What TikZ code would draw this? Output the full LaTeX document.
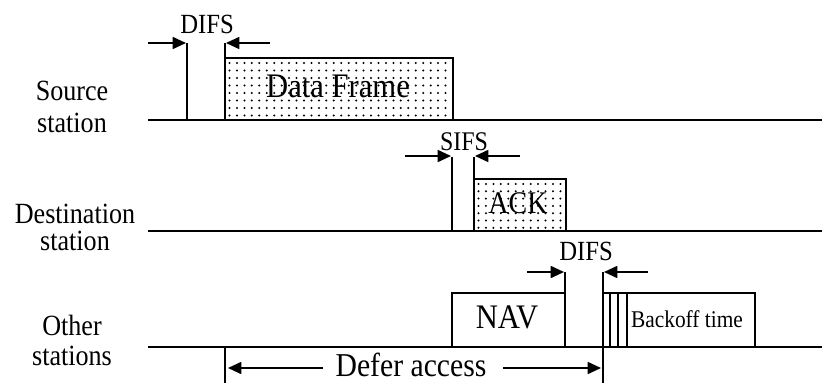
\documentclass[tikz,border=0pt]{standalone}
\usepackage{fontspec}
\setmainfont[FakeStretch=0.89]{Liberation Serif}
\usetikzlibrary{arrows.meta}

\begin{document}
\begin{tikzpicture}[x=0.75pt, y=-0.75pt, line width=1.3pt,
  axis/.style={line width=1.4pt},
  frame/.style={draw, line width=1.3pt},
  mark line/.style={line width=1.3pt},
  gap/.style={-{Triangle[length=10pt,width=9pt]}, line width=1.3pt},
  lbl/.style={font=\fontsize{22}{26}\selectfont, anchor=base, inner sep=0pt},
  ifs/.style={font=\fontsize{20.8}{24}\selectfont, anchor=base, inner sep=0pt},
  big/.style={font=\fontsize{25.8}{30}\selectfont, anchor=base, inner sep=0pt},
  dot/.style={fill=black},
]
\useasboundingbox (0,0) rectangle (822,383);

% station labels
\node[lbl] (srcA) at (72,100) {Source};
\node[lbl] (srcB) at (72,132) {station};
\node[lbl] (dstA) at (75,223) {Destination};
\node[lbl] (dstB) at (75,250) {station};
\node[lbl] (othA) at (72,335) {Other};
\node[lbl] (othB) at (72,365) {stations};

% time axes
\coordinate (srcL) at (148,120);  \coordinate (srcR) at (822,120);
\coordinate (dstL) at (148,231);  \coordinate (dstR) at (822,231);
\coordinate (othL) at (148,347);  \coordinate (othR) at (822,347);
\draw[axis] (srcL) -- (srcR);
\draw[axis] (dstL) -- (dstR);
\draw[axis] (othL) -- (othR);

% ---- source station: DIFS then data frame
\foreach \i in {0,...,29}
  \foreach \j in {0,...,7}
    \fill[dot] (229.5+\i*7.45, 63+\j*7.5) circle (0.85pt);
\coordinate (dfA) at (225,58);
\coordinate (dfB) at (453,120);
\draw[frame] (dfA) rectangle (dfB);
\node[big] (data) at (338,97) {Data Frame};

\coordinate (d1a) at (187,43);  \coordinate (d1b) at (187,120);
\coordinate (d1c) at (225,43);  \coordinate (d1d) at (225,120);
\draw[mark line] (d1a) -- (d1b);
\draw[mark line] (d1c) -- (d1d);
\coordinate (d1p) at (148,43);  \coordinate (d1q) at (186,43);
\coordinate (d1r) at (270,43);  \coordinate (d1s) at (226,43);
\draw[gap] (d1p) -- (d1q);
\draw[gap] (d1r) -- (d1s);
\node[ifs] (difsA) at (207,33) {DIFS};

% ---- destination station: SIFS then ACK
\foreach \i in {0,...,11}
  \foreach \j in {0,...,6}
    \fill[dot] (478.5+\i*7.45, 184+\j*7.3) circle (0.85pt);
\coordinate (ackA) at (474,179);
\coordinate (ackB) at (566,231);
\draw[frame] (ackA) rectangle (ackB);
\node[font=\fontsize{23.6}{27}\selectfont, anchor=base, inner sep=0pt] (ack) at (518,213) {ACK};

\coordinate (s1a) at (452,157);  \coordinate (s1b) at (452,231);
\coordinate (s1c) at (474,157);  \coordinate (s1d) at (474,231);
\draw[mark line] (s1a) -- (s1b);
\draw[mark line] (s1c) -- (s1d);
\coordinate (s1p) at (405,156);  \coordinate (s1q) at (451,156);
\coordinate (s1r) at (520,156);  \coordinate (s1s) at (475,156);
\draw[gap] (s1p) -- (s1q);
\draw[gap] (s1r) -- (s1s);
\node[font=\fontsize{20.2}{24}\selectfont, anchor=base, inner sep=0pt] (sifs) at (464,150) {SIFS};

% ---- other stations: NAV, DIFS, backoff
\coordinate (navA) at (452,293);
\coordinate (navB) at (565,347);
\draw[frame] (navA) rectangle (navB);
\node[big] (nav) at (507,328) {NAV};

\coordinate (n1a) at (565,272);  \coordinate (n1b) at (565,347);
\coordinate (n1c) at (603,272);  \coordinate (n1d) at (603,383);
\draw[mark line] (n1a) -- (n1b);
\draw[mark line] (n1c) -- (n1d);
\coordinate (n1p) at (527,272);  \coordinate (n1q) at (564,272);
\coordinate (n1r) at (648,272);  \coordinate (n1s) at (604,272);
\draw[gap] (n1p) -- (n1q);
\draw[gap] (n1r) -- (n1s);
\node[ifs] (difsB) at (586,260) {DIFS};

\coordinate (boA) at (603,293);
\coordinate (boB) at (755,347);
\draw[frame] (boA) rectangle (boB);
\foreach \x in {610,618,627}
  \draw[line width=1.1pt] (\x,293) -- (\x,347);
\node[font=\fontsize{18}{21}\selectfont, anchor=base, inner sep=0pt] (bo) at (687,327) {Backoff time};

% ---- defer access span
\coordinate (dfrA) at (225,347);  \coordinate (dfrB) at (225,383);
\draw[mark line] (dfrA) -- (dfrB);
\node[font=\fontsize{25}{29}\selectfont, anchor=base, inner sep=0pt] (defer) at (411,376) {Defer access};
\coordinate (dfrP) at (323,368);  \coordinate (dfrQ) at (228,368);
\coordinate (dfrR) at (503,368);  \coordinate (dfrS) at (601,368);
\draw[gap] (dfrP) -- (dfrQ);
\draw[gap] (dfrR) -- (dfrS);
\end{tikzpicture}
\end{document}
